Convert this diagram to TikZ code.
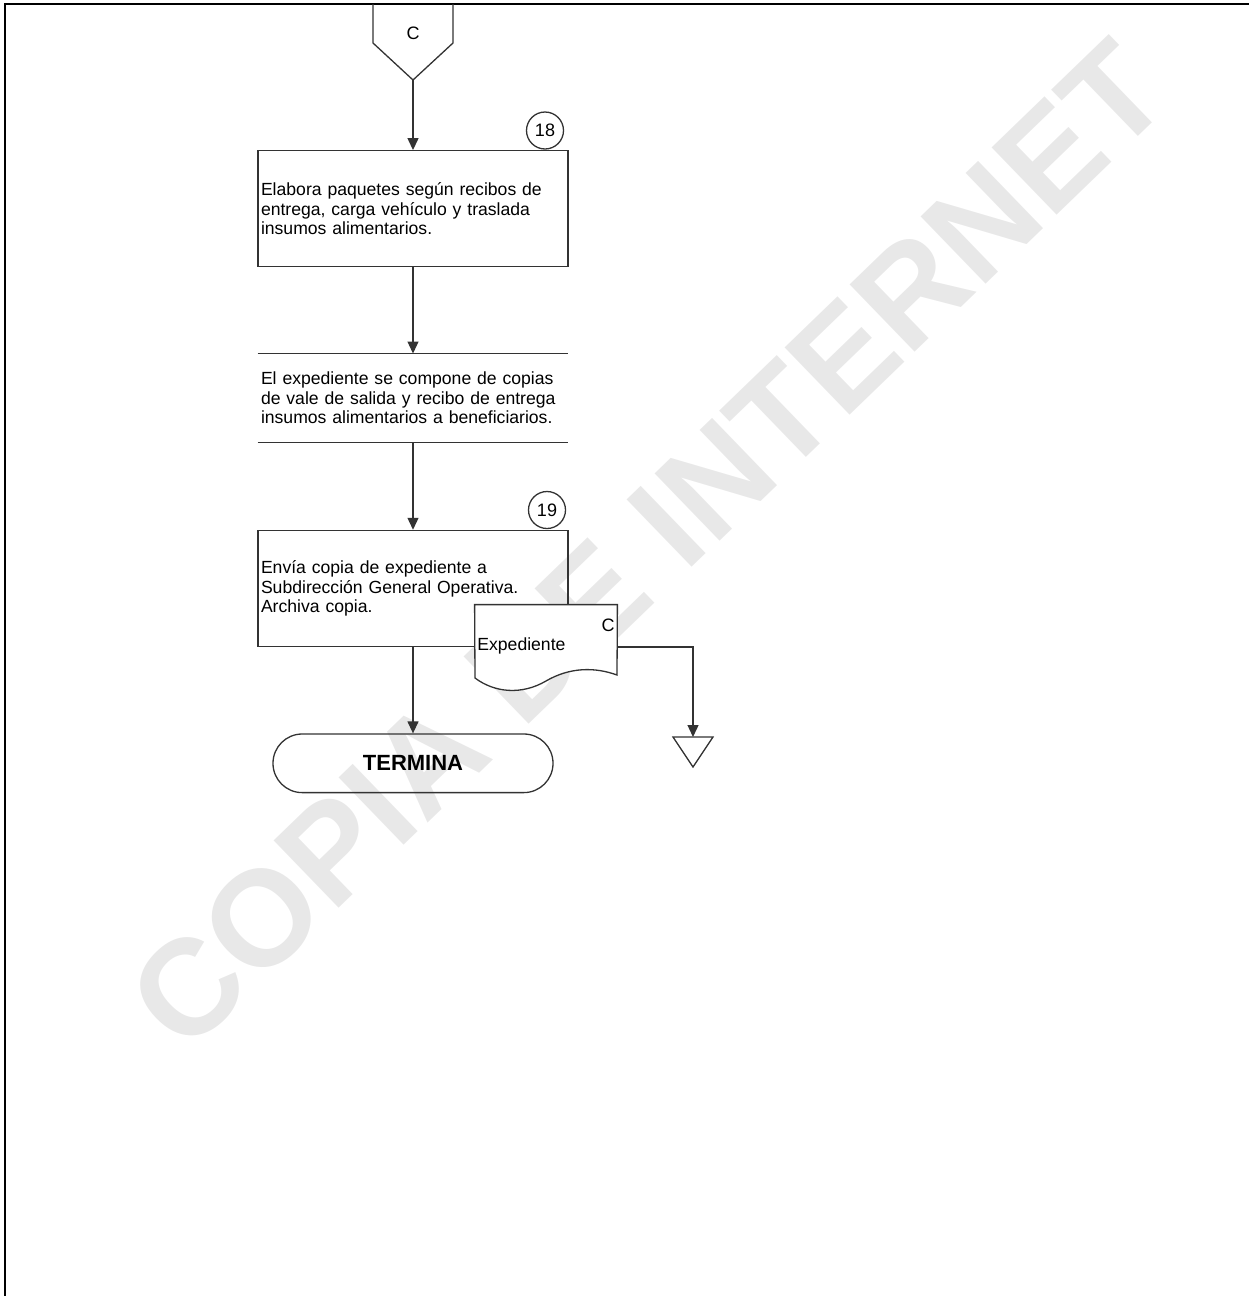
\documentclass[tikz,border=0pt]{standalone}
\usepackage{fontspec}
\setmainfont{Liberation Sans}
\usetikzlibrary{arrows.meta}
\begin{document}
\begin{tikzpicture}[x=0.5pt,y=-0.5pt]
            \tikzstyle{every node}+=[inner sep=0pt]
            \tikzstyle{flow}=[draw=black!80,line width=0.65pt,-{Triangle[length=6pt,width=5.5pt]}]
            \tikzstyle{proc}=[draw=black!80,line width=0.65pt,text width=152pt,inner xsep=1.5pt,minimum height=58pt,align=left,font=\fontsize{8.8}{9.6}\selectfont]
            \tikzstyle{note}=[text width=152pt,inner xsep=1.5pt,minimum height=44pt,align=left,font=\fontsize{8.8}{9.6}\selectfont]
            \tikzstyle{numcirc}=[draw=black!80,line width=0.65pt,circle,minimum size=18.5pt,font=\fontsize{9}{10}\selectfont]
            \useasboundingbox (0,0) rectangle (1249,1296);
            \node [rotate=44,text=black!9,font=\bfseries\fontsize{68}{70}\selectfont] (marca) at (648,545) {COPIA DE INTERNET};
            \draw [black,line width=1pt] (5,1296) -- (5,4) -- (1249,4);
            \draw [black!80,line width=0.65pt] (373,4) -- (373,43) -- (413,80) -- (453,43) -- (453,4);
            \node [font=\fontsize{9}{10}\selectfont] (conC) at (413,33) {C};
            \coordinate (conCtip) at (413,80);
            \node [proc] (p18) at (413,208.7) {Elabora paquetes según recibos de\\entrega, carga vehículo y traslada\\insumos alimentarios.};
            \node [numcirc] (n18) at (545,130.5) {18};
            \node [note] (nota) at (413,397.9) {El expediente se compone de copias\\de vale de salida y recibo de entrega\\insumos alimentarios a beneficiarios.};
            \draw [black!80,line width=0.65pt] (nota.north west) -- (nota.north east);
            \draw [black!80,line width=0.65pt] (nota.south west) -- (nota.south east);
            \node [proc] (p19) at (413,588.4) {Envía copia de expediente a\\Subdirección General Operativa.\\Archiva copia.};
            \node [numcirc] (n19) at (547,510) {19};
            \node [minimum width=71pt,minimum height=42pt] (doc) at (546,647) {};
            \draw [black!80,line width=0.65pt,fill=white] (doc.north west) -- (doc.north east) -- (617,675) .. controls (595,667) and (570,667) .. (546,681) .. controls (522,695) and (495,693) .. (475,678) -- cycle;
            \node [anchor=west,font=\fontsize{8.8}{9.6}\selectfont] (docnom) at (477,646) {Expediente};
            \node [font=\fontsize{9}{10}\selectfont] (docC) at (608,625) {C};
            \node [draw=black!80,line width=0.65pt,rounded corners=14.6pt,minimum width=140pt,minimum height=29.3pt,font=\bfseries\fontsize{11}{12}\selectfont] (term) at (413,763.3) {TERMINA};
            \coordinate (archivo) at (693,737);
            \draw [black!80,line width=0.65pt] (673,737) -- (713,737) -- (693,767) -- cycle;
            \draw [flow] (conCtip) -- (p18);
            \draw [flow] (p18) -- (nota);
            \draw [flow] (nota) -- (p19);
            \draw [flow] (p19) -- (term);
            \draw [flow] (doc.east) -| (archivo);
        \end{tikzpicture}
\end{document}
